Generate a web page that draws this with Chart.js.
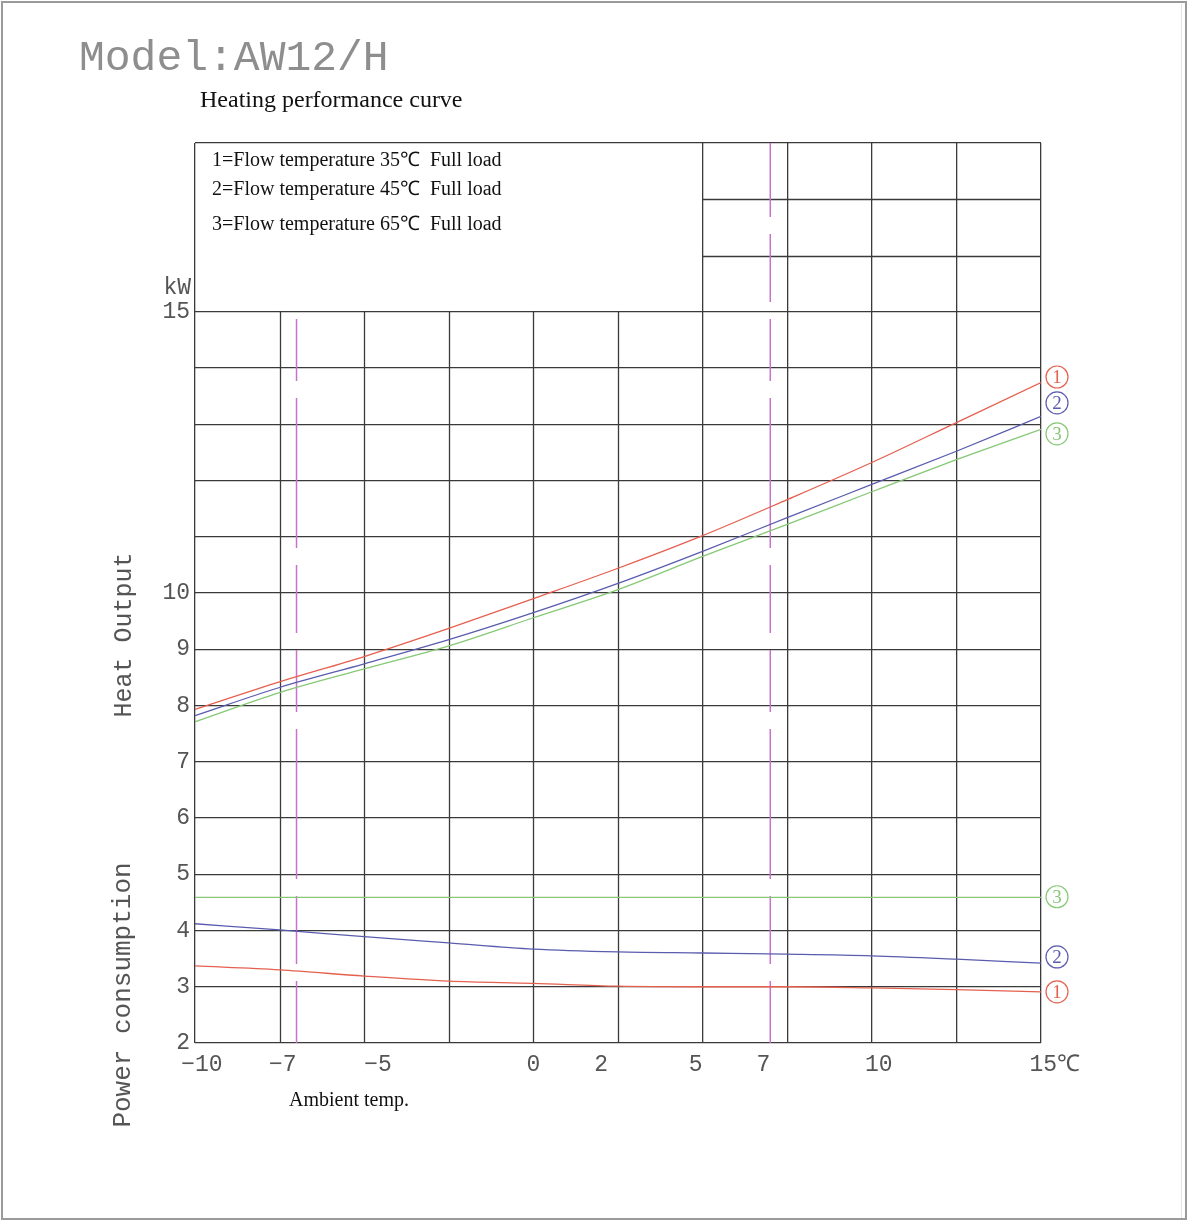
<!DOCTYPE html>
<html>
<head>
<meta charset="utf-8">
<script src="https://cdn.jsdelivr.net/npm/chart.js@4.4.1/dist/chart.umd.min.js"></script>
<style>
  html, body { margin: 0; padding: 0; background: #fff; }
  #wrap { position: relative; width: 1188px; height: 1222px; }
</style>
</head>
<body>
<div id="wrap"><canvas id="c" width="1188" height="1222"></canvas></div>
<script>
// ---- data ----
const temps = [-10, -7.5, -5, -2.5, 0, 2.5, 5, 7.5, 10, 12.5, 15];
const heat35 = [7.93, 8.42, 8.87, 9.37, 9.90, 10.44, 11.02, 11.66, 12.32, 13.03, 13.74];
const heat45 = [7.82, 8.32, 8.74, 9.17, 9.65, 10.17, 10.74, 11.34, 11.93, 12.52, 13.14];
const heat65 = [7.71, 8.23, 8.65, 9.06, 9.56, 10.06, 10.65, 11.22, 11.80, 12.37, 12.91];
const power35 = [3.37, 3.30, 3.19, 3.10, 3.06, 3.01, 3.00, 3.00, 2.98, 2.95, 2.91];
const power45 = [4.12, 4.01, 3.89, 3.78, 3.67, 3.62, 3.60, 3.58, 3.55, 3.49, 3.42];
const power65 = [4.59, 4.59, 4.59, 4.59, 4.59, 4.59, 4.59, 4.59, 4.59, 4.59, 4.59];
const markTemps = [-7, 7];
const xTickValues = [-10, -7.5, -7, -5, -2.5, 0, 2, 2.5, 5, 7, 7.5, 10, 12.5, 15];
const xTickLabels = {'-10': ' \u221210', '-7': '\u22127  ', '-5': '  \u22125', '0': '0', '2': '2', '5': '5 ', '7': '7 ', '10': ' 10', '15': '  15\u2103'};
const yLabelValues = [2, 3, 4, 5, 6, 7, 8, 9, 10, 15];
const legendLines = [
  '1=Flow temperature 35\u2103  Full load',
  '2=Flow temperature 45\u2103  Full load',
  '3=Flow temperature 65\u2103  Full load'
];
const heatTagValues = [13.84, 13.38, 12.83];
const powerTagValues = [2.91, 3.53, 4.60];
const seriesNames = ['1', '2', '3'];

const RED = '#e5604f', BLUE = '#5a5cae', GREEN = '#86c875', PINK = '#c574c9', GRID = '#3a3a3a';
const colors = [RED, BLUE, GREEN];
const pts = (arr) => temps.map((t, i) => ({x: t, y: arr[i]}));

const curve = (label, arr, color) => ({
  label, data: pts(arr), borderColor: color, borderWidth: 1.3,
  pointRadius: 0, fill: false, cubicInterpolationMode: 'monotone'
});

const datasets = [
  curve('Heat 35', heat35, RED), curve('Heat 45', heat45, BLUE), curve('Heat 65', heat65, GREEN),
  curve('Power 35', power35, RED), curve('Power 45', power45, BLUE), curve('Power 65', power65, GREEN),
  { label: 'mark -7', data: [{x: markTemps[0], y: 2}, {x: markTemps[0], y: 15}], borderColor: PINK,
    borderWidth: 1.5, borderDash: [62, 17, 68, 17, 150, 17], pointRadius: 0 },
  { label: 'mark 7', data: [{x: markTemps[1], y: 2}, {x: markTemps[1], y: 18}], borderColor: PINK,
    borderWidth: 1.5, borderDash: [62, 17, 68, 17, 150, 17], pointRadius: 0 }
];

const partialX = [-7.5, -5, -2.5, 0, 2.5];
const hiddenX = [-7, 2, 7];
const partialY = [16, 17];

const decor = {
  id: 'decor',
  beforeDatasetsDraw(chart) {
    const {ctx, scales: {x, y}} = chart;
    ctx.save();
    ctx.strokeStyle = GRID; ctx.lineWidth = 1.3;
    partialX.forEach(v => {
      const px = Math.round(x.getPixelForValue(v)) + 0.5;
      ctx.beginPath(); ctx.moveTo(px, y.getPixelForValue(2)); ctx.lineTo(px, y.getPixelForValue(15)); ctx.stroke();
    });
    partialY.forEach(v => {
      const py = Math.round(y.getPixelForValue(v)) + 0.5;
      ctx.beginPath(); ctx.moveTo(x.getPixelForValue(5), py); ctx.lineTo(x.getPixelForValue(15), py); ctx.stroke();
    });
    ctx.restore();
  },
  afterDraw(chart) {
    const {ctx, scales: {x, y}} = chart;
    ctx.save();
    // frame
    ctx.strokeStyle = '#9a9a9a'; ctx.lineWidth = 2;
    ctx.strokeRect(2, 2, 1184, 1217);
    ctx.strokeStyle = '#e4e4e4'; ctx.lineWidth = 1;
    ctx.beginPath(); ctx.moveTo(1181.5, 4); ctx.lineTo(1181.5, 1218); ctx.stroke();

    // title
    ctx.fillStyle = '#8e8e8e';
    ctx.font = '43px "Liberation Mono"';
    ctx.textAlign = 'left'; ctx.textBaseline = 'alphabetic';
    ctx.fillText('Model:AW12/H', 79, 70);
    ctx.fillStyle = '#111';
    ctx.font = '24px "Liberation Serif"';
    ctx.fillText('Heating performance curve', 200, 107);

    // legend text
    ctx.font = '20px "Liberation Serif"';
    ctx.textBaseline = 'middle';
    const ly = [161, 190, 225];
    legendLines.forEach((t, i) => ctx.fillText(t, 212, ly[i]));

    // kW
    ctx.fillStyle = '#555';
    ctx.font = '23px "Liberation Mono"';
    ctx.textAlign = 'right';
    ctx.fillText('kW', 191, 288);

    // axis titles
    ctx.font = '25px "Liberation Mono"';
    ctx.textAlign = 'center';
    ctx.save(); ctx.translate(124, 635); ctx.rotate(-Math.PI / 2); ctx.fillText('Heat Output', 0, 0); ctx.restore();
    ctx.font = '26px "Liberation Mono"';
    ctx.save(); ctx.translate(123, 995); ctx.rotate(-Math.PI / 2); ctx.fillText('Power consumption', 0, 0); ctx.restore();

    ctx.fillStyle = '#111';
    ctx.font = '20px "Liberation Serif"';
    ctx.textAlign = 'left';
    ctx.fillText('Ambient temp.', 289, 1101);

    // circled tags
    const cx = x.getPixelForValue(15) + 16;
    const tag = (val, i) => {
      const cy = y.getPixelForValue(val);
      ctx.strokeStyle = colors[i]; ctx.fillStyle = colors[i]; ctx.lineWidth = 1.2;
      ctx.beginPath(); ctx.arc(cx, cy, 11, 0, Math.PI * 2); ctx.stroke();
      ctx.font = '19px "Liberation Serif"';
      ctx.textAlign = 'center'; ctx.textBaseline = 'middle';
      ctx.fillText(seriesNames[i], cx, cy + 1);
    };
    heatTagValues.forEach(tag);
    powerTagValues.forEach(tag);
    ctx.restore();
  }
};

new Chart(document.getElementById('c'), {
  type: 'line',
  data: { datasets },
  options: {
    responsive: false,
    animation: false,
    events: [],
    layout: { padding: { left: 0, top: 143, right: 147, bottom: 119 } },
    plugins: { legend: { display: false }, tooltip: { enabled: false }, title: { display: false } },
    scales: {
      x: {
        type: 'linear', min: -10, max: 15,
        afterBuildTicks: (s) => { s.ticks = xTickValues.map(v => ({value: v})); },
        afterFit: (s) => { s.height = 60; },
        ticks: {
          autoSkip: false, maxRotation: 0, padding: 8,
          color: '#555', font: { family: 'Liberation Mono', size: 23 },
          callback: (v) => xTickLabels[String(v)] || ''
        },
        grid: {
          drawTicks: false, lineWidth: 1.3,
          color: (c) => {
            const v = c.tick ? c.tick.value : null;
            return (partialX.includes(v) || hiddenX.includes(v)) ? 'rgba(0,0,0,0)' : GRID;
          }
        },
        border: { display: false }
      },
      y: {
        type: 'linear', min: 2, max: 18,
        afterBuildTicks: (s) => { const t = []; for (let v = 2; v <= 18; v++) t.push({value: v}); s.ticks = t; },
        afterFit: (s) => { s.width = 195; },
        ticks: {
          autoSkip: false, padding: 5,
          color: '#555', font: { family: 'Liberation Mono', size: 23 },
          callback: (v) => yLabelValues.includes(v) ? String(v) : ''
        },
        grid: {
          drawTicks: false, lineWidth: 1.3,
          color: (c) => {
            const v = c.tick ? c.tick.value : null;
            return partialY.includes(v) ? 'rgba(0,0,0,0)' : GRID;
          }
        },
        border: { display: false }
      }
    }
  },
  plugins: [decor]
});
</script>
</body>
</html>
